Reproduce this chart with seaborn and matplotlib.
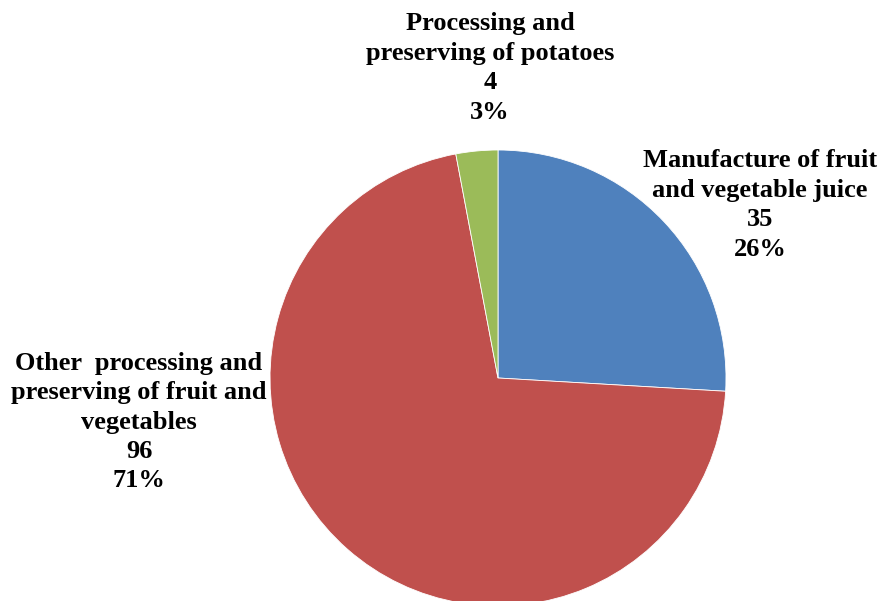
import matplotlib
matplotlib.use("Agg")
import matplotlib.pyplot as plt
import seaborn as sns

# data
labels = ["Manufacture of fruit\nand vegetable juice",
          "Other  processing and\npreserving of fruit and\nvegetables",
          "Processing and\npreserving of potatoes"]
values = [35, 96, 4]
colors = ["#4F81BD", "#C0504D", "#9BBB59"]

sns.set_theme(style="white")
plt.rcParams["font.family"] = ["Liberation Serif", "DejaVu Serif"]

W, H = 880, 601
fig = plt.figure(figsize=(W / 100, H / 100), dpi=100)
# pie centre at (498, 378) px, radius 228 px
cx, cy, r = 498, 378, 228
ax = fig.add_axes([(cx - r) / W, (H - cy - r) / H, 2 * r / W, 2 * r / H])
wedges, _ = ax.pie(values, colors=colors, startangle=90, counterclock=False,
                   wedgeprops=dict(linewidth=0.6, edgecolor="white"))
ax.set_xlim(-1, 1)
ax.set_ylim(-1, 1)
ax.set_aspect("auto")
ax.axis("off")

total = sum(values)
# label centres in pixels, same order as labels (layout only)
label_pos = [(760, 205), (139, 422), (490, 68)]
for lab, v, (px, py) in zip(labels, values, label_pos):
    pct = round(100 * v / total)
    fig.text(px / W, 1 - py / H, f"{lab}\n{v}\n{pct}%", ha="center", va="center",
             fontsize=19, fontweight="bold", linespacing=1.36, color="black")

fig.savefig("out.png", dpi=100, facecolor="white")
